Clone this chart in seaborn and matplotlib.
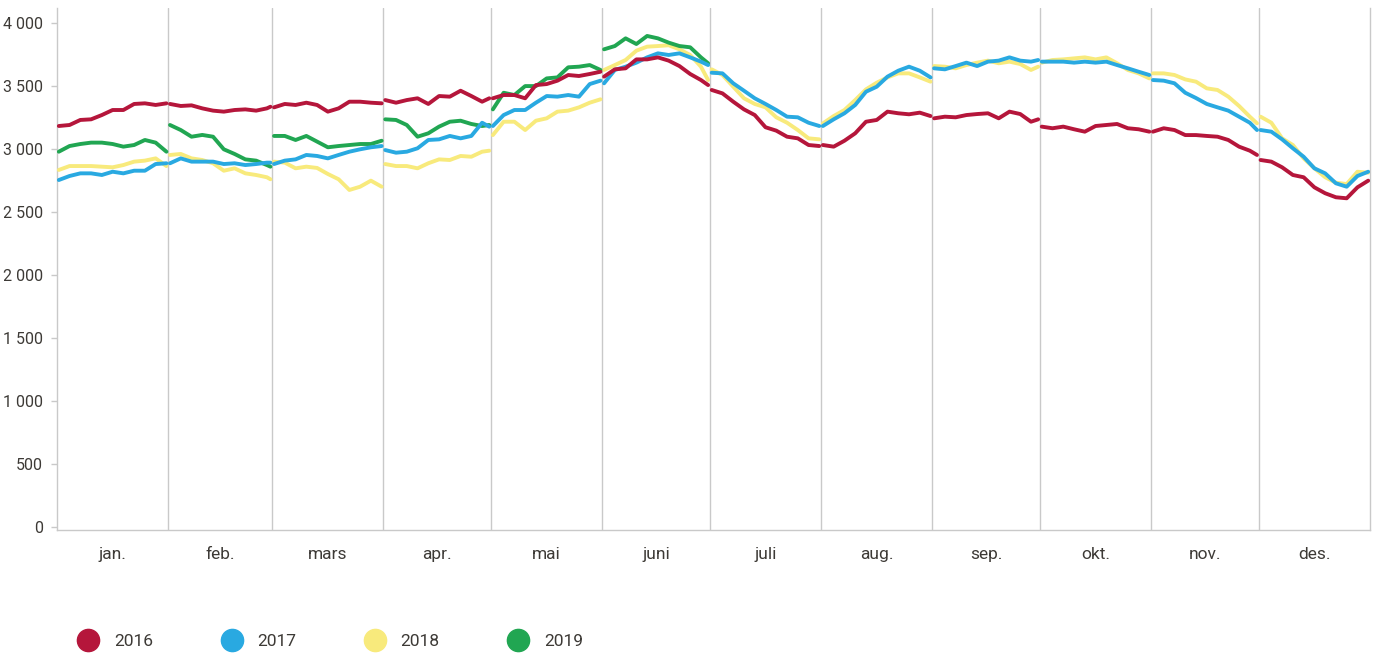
import numpy as np
import pandas as pd
import matplotlib
matplotlib.use("Agg")
import matplotlib.pyplot as plt
from matplotlib.lines import Line2D
from matplotlib.ticker import FuncFormatter
import seaborn as sns

# ---------------- data ----------------
months = ["jan.", "feb.", "mars", "apr.", "mai", "juni", "juli", "aug.", "sep.", "okt.", "nov.", "des."]
month_days = [31, 29, 31, 30, 31, 30, 31, 31, 30, 31, 30, 31]
years = ["2016", "2017", "2018", "2019"]
colors = ["#B5163B", "#29A9E1", "#F8EA7C", "#21A652"]

values_2016 = [
    [3184, 3192, 3232, 3237, 3271, 3311, 3311, 3359, 3364, 3351, 3364],
    [3359, 3343, 3348, 3324, 3306, 3298, 3311, 3316, 3306, 3324, 3337],
    [3332, 3359, 3351, 3369, 3351, 3298, 3324, 3377, 3377, 3369, 3364],
    [3390, 3369, 3390, 3404, 3359, 3422, 3417, 3464, 3422, 3377, 3404],
    [3404, 3430, 3430, 3404, 3509, 3517, 3544, 3589, 3581, 3597, 3615],
    [3576, 3634, 3642, 3713, 3713, 3729, 3703, 3660, 3597, 3549, 3509],
    [3470, 3443, 3377, 3316, 3271, 3174, 3147, 3099, 3086, 3033, 3025],
    [3033, 3020, 3067, 3126, 3218, 3232, 3298, 3285, 3277, 3290, 3263],
    [3245, 3258, 3253, 3271, 3279, 3285, 3245, 3298, 3279, 3218, 3237],
    [3179, 3166, 3179, 3158, 3139, 3184, 3192, 3200, 3166, 3158, 3139],
    [3139, 3166, 3152, 3112, 3112, 3105, 3099, 3073, 3020, 2988, 2954],
    [2914, 2901, 2856, 2795, 2777, 2697, 2650, 2618, 2610, 2697, 2750],
]
values_2017 = [
    [2755, 2787, 2808, 2808, 2795, 2821, 2808, 2829, 2829, 2882, 2888],
    [2888, 2927, 2901, 2901, 2901, 2882, 2888, 2874, 2882, 2893, 2893],
    [2882, 2909, 2919, 2954, 2946, 2927, 2954, 2980, 2999, 3015, 3025],
    [2993, 2972, 2980, 3007, 3073, 3078, 3105, 3086, 3105, 3210, 3179],
    [3184, 3271, 3311, 3311, 3369, 3422, 3417, 3430, 3417, 3517, 3544],
    [3523, 3629, 3655, 3687, 3729, 3761, 3748, 3761, 3729, 3695, 3668],
    [3607, 3602, 3523, 3464, 3404, 3359, 3311, 3258, 3253, 3210, 3184],
    [3184, 3237, 3285, 3351, 3456, 3496, 3576, 3623, 3655, 3623, 3570],
    [3642, 3634, 3660, 3687, 3660, 3695, 3703, 3729, 3703, 3695, 3708],
    [3695, 3695, 3695, 3687, 3695, 3687, 3695, 3668, 3642, 3615, 3589],
    [3549, 3544, 3523, 3448, 3406, 3359, 3332, 3306, 3258, 3210, 3152],
    [3152, 3139, 3078, 3007, 2940, 2848, 2808, 2729, 2702, 2787, 2821],
]
values_2018 = [
    [2835, 2866, 2866, 2866, 2861, 2856, 2874, 2901, 2909, 2927, 2866],
    [2954, 2962, 2927, 2914, 2888, 2829, 2848, 2808, 2795, 2777, 2761],
    [2901, 2893, 2848, 2861, 2851, 2803, 2761, 2676, 2702, 2750, 2702],
    [2882, 2866, 2866, 2848, 2888, 2919, 2914, 2946, 2940, 2980, 2988],
    [3112, 3218, 3218, 3152, 3226, 3245, 3298, 3306, 3332, 3369, 3396],
    [3629, 3668, 3708, 3782, 3814, 3819, 3825, 3793, 3748, 3655, 3549],
    [3634, 3589, 3496, 3404, 3359, 3332, 3253, 3210, 3152, 3086, 3078],
    [3205, 3263, 3311, 3390, 3475, 3528, 3570, 3602, 3602, 3570, 3536],
    [3660, 3655, 3642, 3668, 3687, 3703, 3682, 3695, 3676, 3629, 3655],
    [3687, 3708, 3713, 3721, 3729, 3713, 3729, 3682, 3629, 3602, 3562],
    [3602, 3602, 3589, 3554, 3536, 3483, 3470, 3417, 3343, 3258, 3205],
    [3258, 3210, 3086, 3033, 2927, 2848, 2777, 2734, 2723, 2821, 2813],
]
values_2019 = [
    [2980, 3025, 3041, 3052, 3052, 3041, 3020, 3033, 3073, 3052, 2980],
    [3192, 3152, 3099, 3113, 3099, 2999, 2962, 2919, 2909, 2874, 2861],
    [3105, 3105, 3073, 3105, 3060, 3015, 3025, 3033, 3041, 3041, 3067],
    [3237, 3232, 3192, 3099, 3126, 3179, 3218, 3226, 3200, 3184, 3192],
    [3316, 3448, 3430, 3501, 3501, 3562, 3570, 3650, 3655, 3668, 3629],
    [3793, 3819, 3880, 3835, 3899, 3880, 3846, 3819, 3809, 3729, 3682],
]
y_ticks = [0, 500, 1000, 1500, 2000, 2500, 3000, 3500, 4000]

# ---------------- build long table ----------------
all_values = {"2016": values_2016, "2017": values_2017, "2018": values_2018, "2019": values_2019}
starts = np.concatenate([[0], np.cumsum(month_days)])
rows = []
for yr, vals in all_values.items():
    for m, mv in enumerate(vals):
        L = month_days[m]
        days = list(range(1, L + 1, 3))
        if days[-1] != L:
            days.append(L)
        for d, v in zip(days, mv):
            rows.append({"year": yr, "month": m, "x": starts[m] + d - 0.5, "value": v})
df = pd.DataFrame(rows)

# ---------------- plot ----------------
sns.set_theme(style="white")
plt.rcParams["font.family"] = ["Roboto", "DejaVu Sans"]
text_col = "#3d3a36"
grid_col = "#c9c9c9"

W, H = 1378, 655
fig = plt.figure(figsize=(W / 100, H / 100), dpi=100)
ax = fig.add_axes([57 / W, 1 - 530 / H, (1370 - 57) / W, (530 - 8) / H])

draw_order = ["2018", "2019", "2017", "2016"]
pal = dict(zip(years, colors))
for i, yr in enumerate(draw_order):
    sub = df[df["year"] == yr]
    sns.lineplot(data=sub, x="x", y="value", units="month", estimator=None,
                 color=pal[yr], lw=2.8, ax=ax, zorder=3 + i, legend=False)

ax.set_xlim(0, starts[-1])
ax.set_ylim(-24, 4121)
for b in starts[1:-1]:
    ax.axvline(b, color=grid_col, lw=1.0, zorder=1)

ax.spines["top"].set_visible(False)
for s in ["left", "right", "bottom"]:
    ax.spines[s].set_color(grid_col)
    ax.spines[s].set_linewidth(1.0)

ax.set_yticks(y_ticks)
ax.yaxis.set_major_formatter(FuncFormatter(lambda v, p: f"{int(v):,}".replace(",", " ")))
ax.tick_params(axis="y", left=True, length=4, width=1, color=grid_col, pad=6,
               labelsize=11.5, labelcolor=text_col)

centers = (starts[:-1] + starts[1:]) / 2
ax.set_xticks(centers)
ax.set_xticklabels(months)
ax.tick_params(axis="x", bottom=False, length=0, pad=12, labelsize=12.5, labelcolor=text_col)
ax.set_xlabel("")
ax.set_ylabel("")

handles = [Line2D([], [], marker="o", linestyle="", markersize=16, color=c) for c in colors]
fig.legend(handles, years, loc="center left", bbox_to_anchor=(71 / W, 1 - 641 / H),
           ncol=4, frameon=False, fontsize=12.5, labelcolor=text_col,
           handletextpad=0.5, columnspacing=3.5, borderaxespad=0, borderpad=0)

fig.savefig("out.png", dpi=100)
